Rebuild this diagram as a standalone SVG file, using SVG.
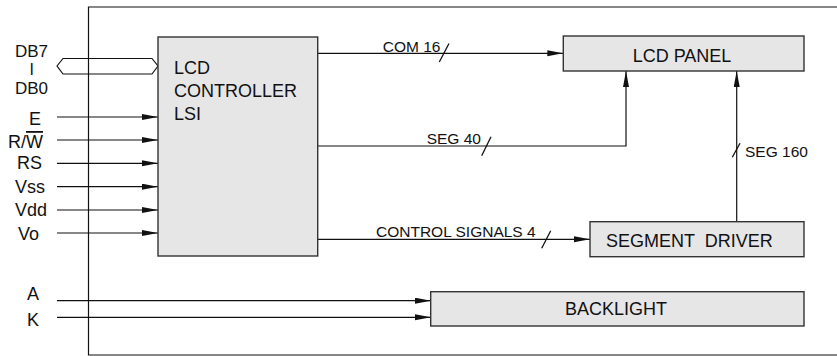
<svg xmlns="http://www.w3.org/2000/svg" width="837" height="356" viewBox="0 0 837 356">
<style>
.blk{fill:#e6e6e6;stroke:#333;stroke-width:1.4}
.ln{fill:none;stroke:#111;stroke-width:1.2}
.arr{fill:none;stroke:#111;stroke-width:1.2;marker-end:url(#ah)}
.sl{stroke:#111;stroke-width:1.3}
.t{font-family:"Liberation Sans",Arial,sans-serif;font-size:18px;fill:#111}
.d{font-size:17px}
.s{font-family:"Liberation Sans",Arial,sans-serif;font-size:15.5px;fill:#111}
</style>
<defs>
<marker id="ah" markerUnits="userSpaceOnUse" markerWidth="16" markerHeight="8" refX="16" refY="3" orient="auto">
<path d="M0,0 L16,3 L0,6 Z" fill="#111"/>
</marker>
</defs>
<rect width="837" height="356" fill="#fff"/>
<g id="frame"><path class="ln" d="M845,7 H88.5 V355 H845" stroke="#333"/></g>
<g id="connectors">
<polygon class="ln" points="57,66 63,58.5 152,58.5 158,66 152,74 63,74"/>
<line class="arr" x1="57" y1="117" x2="158" y2="117"/>
<line class="arr" x1="57" y1="140" x2="158" y2="140"/>
<line class="arr" x1="57" y1="163.3" x2="158" y2="163.3"/>
<line class="arr" x1="57" y1="186.7" x2="158" y2="186.7"/>
<line class="arr" x1="57" y1="210" x2="158" y2="210"/>
<line class="arr" x1="57" y1="233" x2="158" y2="233"/>
<line class="arr" x1="57" y1="300.7" x2="431" y2="300.7"/>
<line class="arr" x1="57" y1="317.3" x2="431" y2="317.3"/>
<line class="arr" x1="318" y1="53.3" x2="563.3" y2="53.3"/>
<line class="sl" x1="439.3" y1="62" x2="449" y2="43.5"/>
<path class="arr" d="M318,146 H626 V71"/>
<line class="sl" x1="481.7" y1="155.7" x2="491" y2="136.7"/>
<line class="arr" x1="736.7" y1="221.7" x2="736.7" y2="71"/>
<line class="sl" x1="732.3" y1="157.3" x2="740" y2="143.3"/>
<line class="arr" x1="318" y1="239.3" x2="590" y2="239.3"/>
<line class="sl" x1="541.7" y1="248.3" x2="550.7" y2="230.7"/>
</g>
<g id="labels">
<text class="t d" x="15" y="56.5">DB7</text>
<text class="t" x="29.5" y="75" style="font-size:16px">I</text>
<text class="t d" x="15" y="94">DB0</text>
<text class="t" x="29" y="125">E</text>
<text class="t" x="8" y="148">R/<tspan style="text-decoration:overline">W</tspan></text>
<text class="t" x="17" y="168.5">RS</text>
<text class="t" x="15" y="192.5">Vss</text>
<text class="t" x="15" y="216">Vdd</text>
<text class="t" x="18" y="239.5">Vo</text>
<text class="t" x="27" y="300">A</text>
<text class="t" x="27" y="326">K</text>
<text class="s" x="382.7" y="51.5">COM 16</text>
<text class="s" x="426.7" y="144">SEG 40</text>
<text class="s" x="745" y="157">SEG 160</text>
<text class="s" x="376" y="237">CONTROL SIGNALS 4</text>
</g>
<g id="controller">
<rect class="blk" x="158" y="37" width="159.7" height="219"/>
<text class="t" x="174" y="74">LCD</text>
<text class="t" x="174" y="97">CONTROLLER</text>
<text class="t" x="174" y="120">LSI</text>
</g>
<g id="lcd-panel">
<rect class="blk" x="563.3" y="36" width="240.7" height="35"/>
<text class="t" x="682" y="61.5" text-anchor="middle">LCD PANEL</text>
</g>
<g id="segment-driver">
<rect class="blk" x="590" y="221.7" width="214" height="35"/>
<text class="t" x="606" y="247" xml:space="preserve">SEGMENT  DRIVER</text>
</g>
<g id="backlight">
<rect class="blk" x="430.7" y="291.7" width="373.3" height="34.3"/>
<text class="t" x="565" y="315">BACKLIGHT</text>
</g>
</svg>
